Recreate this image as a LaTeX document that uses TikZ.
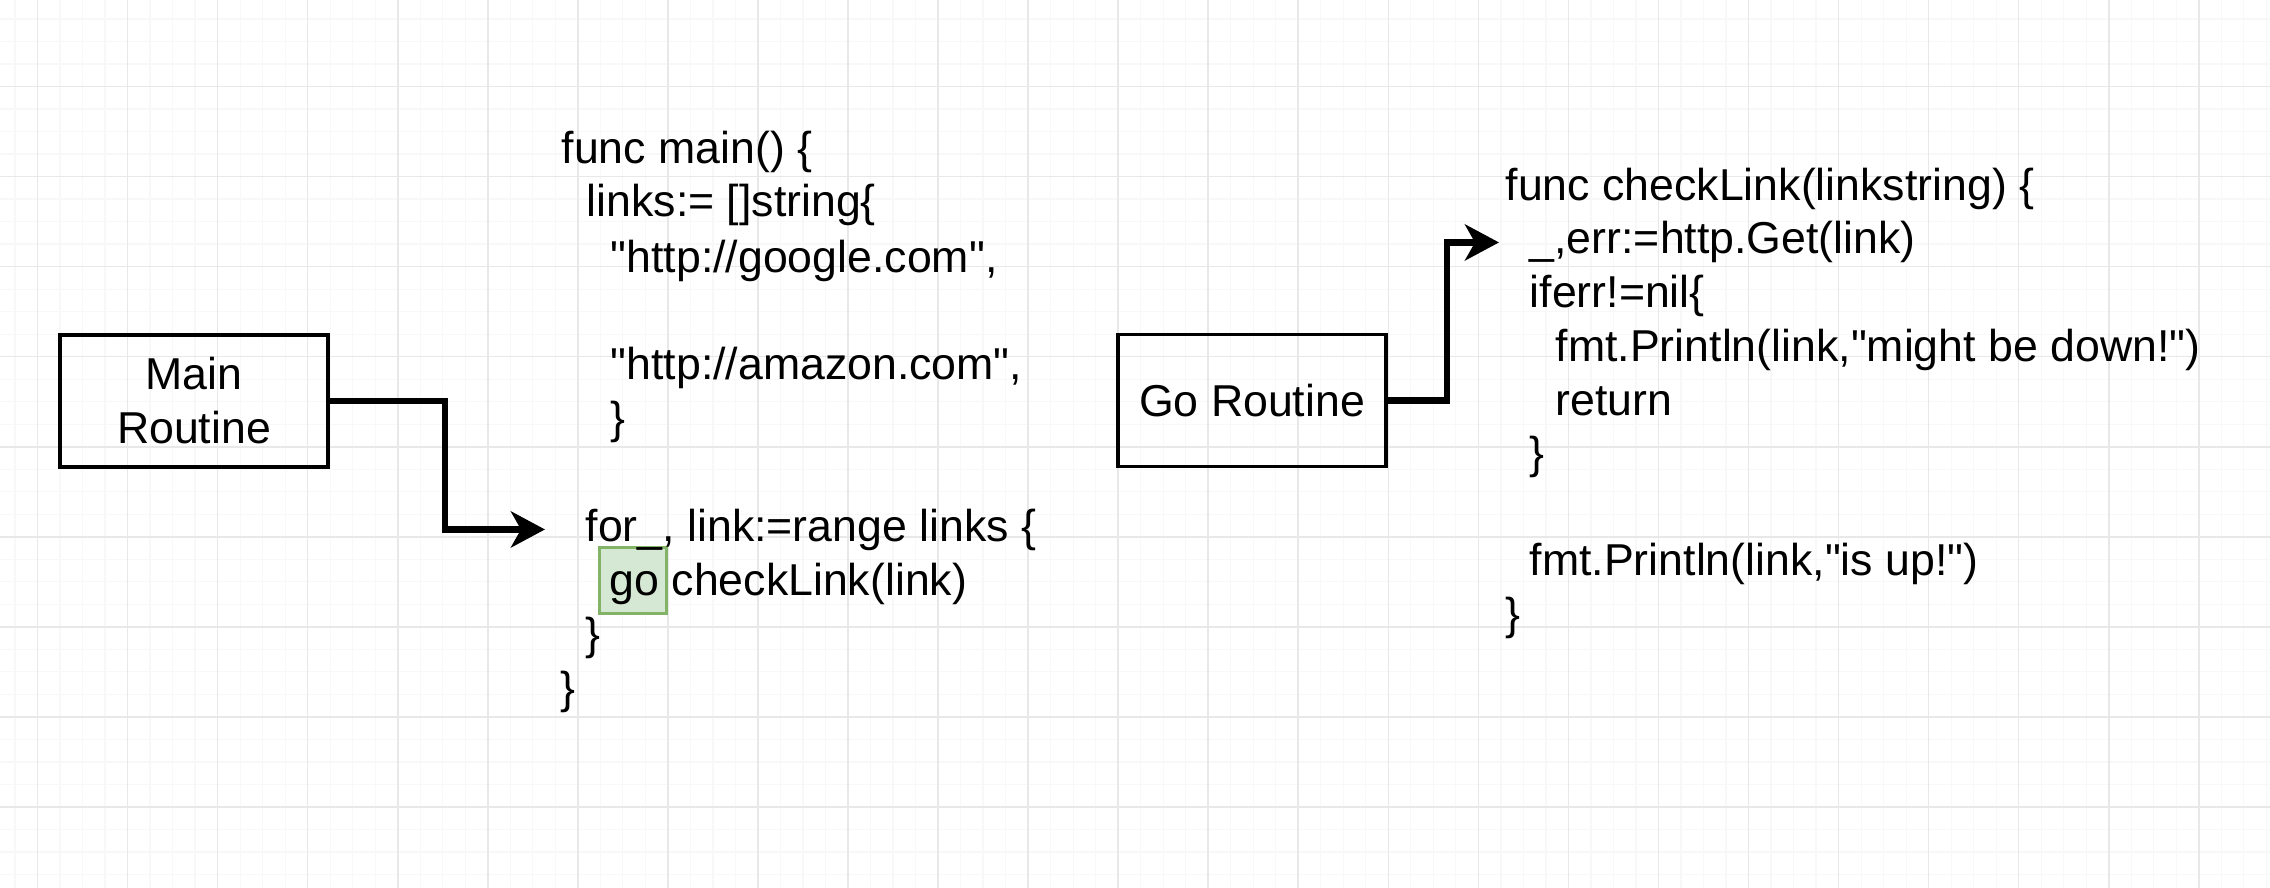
\documentclass[tikz,border=0pt]{standalone}
\usepackage{fontspec}
\setmainfont{Liberation Sans}[Ligatures=TeXOff]
\usetikzlibrary{arrows.meta,calc}
\definecolor{GridMajorClr}{rgb}{0.91,0.91,0.91}
\definecolor{GridMinorClr}{rgb}{0.972,0.972,0.972}
\definecolor{GoFillClr}{rgb}{0.835,0.91,0.831}
\definecolor{GoEdgeClr}{rgb}{0.51,0.702,0.4}

\begin{document}
\begin{tikzpicture}[x=0.01cm,y=-0.01cm,
  font=\fontsize{12.7}{15.2}\selectfont,
  routine/.style={draw,line width=1.1pt,minimum width=2.68cm,minimum height=1.32cm,align=center,inner sep=0pt},
  codeln/.style={anchor=base west,inner sep=0pt},
  gohl/.style={draw=GoEdgeClr,fill=GoFillClr,line width=0.9pt,minimum width=0.67cm,minimum height=0.66cm,inner sep=0pt},
  flow/.style={line width=1.8pt,-{Stealth[length=0.34cm,width=0.36cm,inset=0.1cm]}}]

\useasboundingbox[fill=white] (0,0) rectangle (2270,888);

% background grid
\begin{scope}[shift={(37.5,86.5)}]
\draw[GridMinorClr,line width=0.35pt,step=0.225cm] (-37.5,-86.5) grid (2232.5,801.5);
\draw[GridMajorClr,line width=0.45pt,step=0.9cm] (-37.5,-86.5) grid (2232.5,801.5);
\end{scope}

\node[routine] (main) at (194,400.7) {Main\\Routine};
\node[routine] (go) at (1252,400.5) {Go Routine};

% main()
\node[gohl] (hl) at (633,580.5) {};
\node[codeln] (m1) at (561,163) {func main() \{};
\node[codeln] (m2) at (586,217) {links:= []string\{};
\node[codeln] (m3) at (610,272) {"http://google.com",};
\node[codeln] (m4) at (610,379) {"http://amazon.com",};
\node[codeln] (m5) at (610,433) {\}};
\node[codeln] (forln) at (585,541) {for\_, link:=range links \{};
\node[codeln] (m7) at (609,595) {go checkLink(link)};
\node[codeln] (m8) at (585,649) {\}};
\node[codeln] (m9) at (560,703) {\}};

% checkLink()
\node[codeln] (c1) at (1505,200) {func checkLink(linkstring) \{};
\node[codeln] (c2) at (1529,254) {\_,err:=http.Get(link)};
\node[codeln] (c3) at (1529,307) {iferr!=nil\{};
\node[codeln] (c4) at (1555,361) {fmt.Println(link,"might be down!")};
\node[codeln] (c5) at (1555,415) {return};
\node[codeln] (c6) at (1529,468) {\}};
\node[codeln] (c7) at (1529,575) {fmt.Println(link,"is up!")};
\node[codeln] (c8) at (1505,629) {\}};

\draw[flow,shorten >=0.4cm] (main.east) -- ++(115,0) |- (forln.west);
\draw[flow,shorten >=0.3cm] (go.east) -- ++(59,0) |- (c2.west);

\end{tikzpicture}
\end{document}
